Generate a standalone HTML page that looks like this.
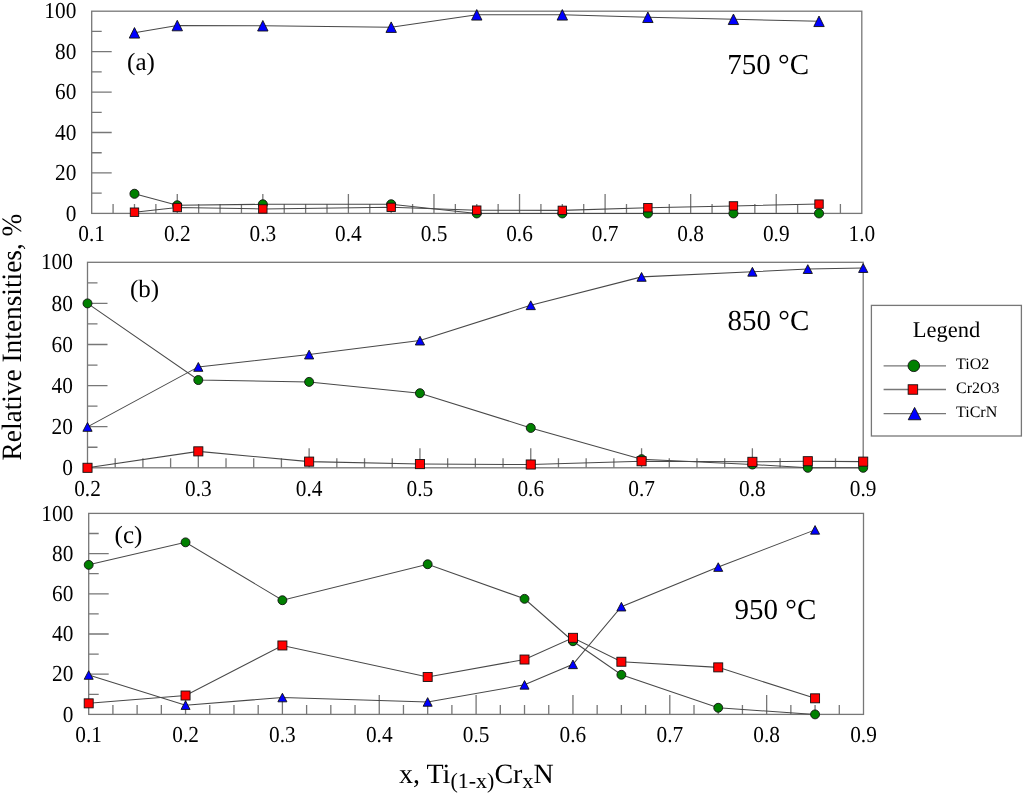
<!DOCTYPE html>
<html><head><meta charset="utf-8"><title>Relative intensities</title>
<style>
html,body{margin:0;padding:0;background:#fff;}
body{width:1024px;height:794px;overflow:hidden;}
svg{display:block;font-family:"Liberation Serif", serif;will-change:transform;}
text{fill:#000;text-rendering:geometricPrecision;}
</style></head>
<body>
<svg width="1024" height="794" viewBox="0 0 1024 794">
<rect width="1024" height="794" fill="#fff"/>
<path d="M91.70 193.18h10 M91.70 172.96h20 M91.70 152.74h10 M91.70 132.52h20 M91.70 112.30h10 M91.70 92.08h20 M91.70 71.86h10 M91.70 51.64h20 M91.70 31.42h10 M113.09 213.40v-9.5 M134.48 213.40v-9.5 M155.88 213.40v-9.5 M177.27 213.40v-19.5 M198.66 213.40v-9.5 M220.05 213.40v-9.5 M241.44 213.40v-9.5 M262.83 213.40v-19.5 M284.22 213.40v-9.5 M305.62 213.40v-9.5 M327.01 213.40v-9.5 M348.40 213.40v-19.5 M369.79 213.40v-9.5 M391.18 213.40v-9.5 M412.57 213.40v-9.5 M433.97 213.40v-19.5 M455.36 213.40v-9.5 M476.75 213.40v-9.5 M498.14 213.40v-9.5 M519.53 213.40v-19.5 M540.92 213.40v-9.5 M562.32 213.40v-9.5 M583.71 213.40v-9.5 M605.10 213.40v-19.5 M626.49 213.40v-9.5 M647.88 213.40v-9.5 M669.27 213.40v-9.5 M690.67 213.40v-19.5 M712.06 213.40v-9.5 M733.45 213.40v-9.5 M754.84 213.40v-9.5 M776.23 213.40v-19.5 M797.62 213.40v-9.5 M819.02 213.40v-9.5 M840.41 213.40v-9.5" stroke="#777" stroke-width="1.3" fill="none"/>
<rect x="91.70" y="11.20" width="770.10" height="202.20" fill="none" stroke="#777" stroke-width="1.3"/>
<text transform="translate(76.30 220.50) scale(0.97 1.04)" text-anchor="end" font-size="22">0</text>
<text transform="translate(76.30 180.06) scale(0.97 1.04)" text-anchor="end" font-size="22">20</text>
<text transform="translate(76.30 139.62) scale(0.97 1.04)" text-anchor="end" font-size="22">40</text>
<text transform="translate(76.30 99.18) scale(0.97 1.04)" text-anchor="end" font-size="22">60</text>
<text transform="translate(76.30 58.74) scale(0.97 1.04)" text-anchor="end" font-size="22">80</text>
<text transform="translate(76.30 18.30) scale(0.97 1.04)" text-anchor="end" font-size="22">100</text>
<text transform="translate(91.70 241.40) scale(0.97 1.04)" text-anchor="middle" font-size="22">0.1</text>
<text transform="translate(177.27 241.40) scale(0.97 1.04)" text-anchor="middle" font-size="22">0.2</text>
<text transform="translate(262.83 241.40) scale(0.97 1.04)" text-anchor="middle" font-size="22">0.3</text>
<text transform="translate(348.40 241.40) scale(0.97 1.04)" text-anchor="middle" font-size="22">0.4</text>
<text transform="translate(433.97 241.40) scale(0.97 1.04)" text-anchor="middle" font-size="22">0.5</text>
<text transform="translate(519.53 241.40) scale(0.97 1.04)" text-anchor="middle" font-size="22">0.6</text>
<text transform="translate(605.10 241.40) scale(0.97 1.04)" text-anchor="middle" font-size="22">0.7</text>
<text transform="translate(690.67 241.40) scale(0.97 1.04)" text-anchor="middle" font-size="22">0.8</text>
<text transform="translate(776.23 241.40) scale(0.97 1.04)" text-anchor="middle" font-size="22">0.9</text>
<text transform="translate(861.80 241.40) scale(0.97 1.04)" text-anchor="middle" font-size="22">1.0</text>
<path d="M134.48 193.79 L177.27 205.31 L262.83 204.30 L391.18 204.30 L476.75 213.40 L562.32 213.40 L647.88 213.40 L733.45 213.40 L819.02 213.40" stroke="#484848" stroke-width="1.05" fill="none"/>
<circle cx="134.48" cy="193.79" r="4.55" fill="#008000" stroke="#111" stroke-width="0.9"/>
<circle cx="177.27" cy="205.31" r="4.55" fill="#008000" stroke="#111" stroke-width="0.9"/>
<circle cx="262.83" cy="204.30" r="4.55" fill="#008000" stroke="#111" stroke-width="0.9"/>
<circle cx="391.18" cy="204.30" r="4.55" fill="#008000" stroke="#111" stroke-width="0.9"/>
<circle cx="476.75" cy="213.40" r="4.55" fill="#008000" stroke="#111" stroke-width="0.9"/>
<circle cx="562.32" cy="213.40" r="4.55" fill="#008000" stroke="#111" stroke-width="0.9"/>
<circle cx="647.88" cy="213.40" r="4.55" fill="#008000" stroke="#111" stroke-width="0.9"/>
<circle cx="733.45" cy="213.40" r="4.55" fill="#008000" stroke="#111" stroke-width="0.9"/>
<circle cx="819.02" cy="213.40" r="4.55" fill="#008000" stroke="#111" stroke-width="0.9"/>
<path d="M134.48 212.19 L177.27 207.54 L262.83 208.95 L391.18 207.33 L476.75 210.16 L562.32 210.37 L647.88 207.74 L733.45 205.92 L819.02 204.10" stroke="#484848" stroke-width="1.05" fill="none"/>
<rect x="130.28" y="207.99" width="8.4" height="8.4" fill="#ff0000" stroke="#111" stroke-width="0.9"/>
<rect x="173.07" y="203.34" width="8.4" height="8.4" fill="#ff0000" stroke="#111" stroke-width="0.9"/>
<rect x="258.63" y="204.75" width="8.4" height="8.4" fill="#ff0000" stroke="#111" stroke-width="0.9"/>
<rect x="386.98" y="203.13" width="8.4" height="8.4" fill="#ff0000" stroke="#111" stroke-width="0.9"/>
<rect x="472.55" y="205.96" width="8.4" height="8.4" fill="#ff0000" stroke="#111" stroke-width="0.9"/>
<rect x="558.12" y="206.17" width="8.4" height="8.4" fill="#ff0000" stroke="#111" stroke-width="0.9"/>
<rect x="643.68" y="203.54" width="8.4" height="8.4" fill="#ff0000" stroke="#111" stroke-width="0.9"/>
<rect x="729.25" y="201.72" width="8.4" height="8.4" fill="#ff0000" stroke="#111" stroke-width="0.9"/>
<rect x="814.82" y="199.90" width="8.4" height="8.4" fill="#ff0000" stroke="#111" stroke-width="0.9"/>
<path d="M134.48 32.84 L177.27 25.56 L262.83 25.76 L391.18 27.17 L476.75 14.84 L562.32 14.84 L647.88 17.27 L733.45 19.29 L819.02 21.31" stroke="#484848" stroke-width="1.05" fill="none"/>
<polygon points="134.48,27.59 129.28,38.09 139.68,38.09" fill="#0000ff" stroke="#111" stroke-width="0.9" stroke-linejoin="round"/>
<polygon points="177.27,20.31 172.07,30.81 182.47,30.81" fill="#0000ff" stroke="#111" stroke-width="0.9" stroke-linejoin="round"/>
<polygon points="262.83,20.51 257.63,31.01 268.03,31.01" fill="#0000ff" stroke="#111" stroke-width="0.9" stroke-linejoin="round"/>
<polygon points="391.18,21.92 385.98,32.42 396.38,32.42" fill="#0000ff" stroke="#111" stroke-width="0.9" stroke-linejoin="round"/>
<polygon points="476.75,9.59 471.55,20.09 481.95,20.09" fill="#0000ff" stroke="#111" stroke-width="0.9" stroke-linejoin="round"/>
<polygon points="562.32,9.59 557.12,20.09 567.52,20.09" fill="#0000ff" stroke="#111" stroke-width="0.9" stroke-linejoin="round"/>
<polygon points="647.88,12.02 642.68,22.52 653.08,22.52" fill="#0000ff" stroke="#111" stroke-width="0.9" stroke-linejoin="round"/>
<polygon points="733.45,14.04 728.25,24.54 738.65,24.54" fill="#0000ff" stroke="#111" stroke-width="0.9" stroke-linejoin="round"/>
<polygon points="819.02,16.06 813.82,26.56 824.22,26.56" fill="#0000ff" stroke="#111" stroke-width="0.9" stroke-linejoin="round"/>
<text x="127.1" y="70.2" font-size="25">(a)</text>
<text x="727.3" y="74.1" font-size="29">750 °C</text>
<path d="M87.50 447.25h10 M87.50 426.70h20 M87.50 406.15h10 M87.50 385.60h20 M87.50 365.05h10 M87.50 344.50h20 M87.50 323.95h10 M87.50 303.40h20 M87.50 282.85h10 M115.20 467.80v-9.5 M142.91 467.80v-9.5 M170.61 467.80v-9.5 M198.31 467.80v-19.5 M226.02 467.80v-9.5 M253.72 467.80v-9.5 M281.43 467.80v-9.5 M309.13 467.80v-19.5 M336.83 467.80v-9.5 M364.54 467.80v-9.5 M392.24 467.80v-9.5 M419.94 467.80v-19.5 M447.65 467.80v-9.5 M475.35 467.80v-9.5 M503.05 467.80v-9.5 M530.76 467.80v-19.5 M558.46 467.80v-9.5 M586.16 467.80v-9.5 M613.87 467.80v-9.5 M641.57 467.80v-19.5 M669.28 467.80v-9.5 M696.98 467.80v-9.5 M724.68 467.80v-9.5 M752.39 467.80v-19.5 M780.09 467.80v-9.5 M807.79 467.80v-9.5 M835.50 467.80v-9.5" stroke="#777" stroke-width="1.3" fill="none"/>
<rect x="87.50" y="262.30" width="775.70" height="205.50" fill="none" stroke="#777" stroke-width="1.3"/>
<text transform="translate(72.90 474.90) scale(0.97 1.04)" text-anchor="end" font-size="22">0</text>
<text transform="translate(72.90 433.80) scale(0.97 1.04)" text-anchor="end" font-size="22">20</text>
<text transform="translate(72.90 392.70) scale(0.97 1.04)" text-anchor="end" font-size="22">40</text>
<text transform="translate(72.90 351.60) scale(0.97 1.04)" text-anchor="end" font-size="22">60</text>
<text transform="translate(72.90 310.50) scale(0.97 1.04)" text-anchor="end" font-size="22">80</text>
<text transform="translate(72.90 269.40) scale(0.97 1.04)" text-anchor="end" font-size="22">100</text>
<text transform="translate(87.50 495.80) scale(0.97 1.04)" text-anchor="middle" font-size="22">0.2</text>
<text transform="translate(198.31 495.80) scale(0.97 1.04)" text-anchor="middle" font-size="22">0.3</text>
<text transform="translate(309.13 495.80) scale(0.97 1.04)" text-anchor="middle" font-size="22">0.4</text>
<text transform="translate(419.94 495.80) scale(0.97 1.04)" text-anchor="middle" font-size="22">0.5</text>
<text transform="translate(530.76 495.80) scale(0.97 1.04)" text-anchor="middle" font-size="22">0.6</text>
<text transform="translate(641.57 495.80) scale(0.97 1.04)" text-anchor="middle" font-size="22">0.7</text>
<text transform="translate(752.39 495.80) scale(0.97 1.04)" text-anchor="middle" font-size="22">0.8</text>
<text transform="translate(863.20 495.80) scale(0.97 1.04)" text-anchor="middle" font-size="22">0.9</text>
<path d="M87.50 303.40 L198.31 380.05 L309.13 381.90 L419.94 393.20 L530.76 427.93 L641.57 459.17 L752.39 464.51 L807.79 467.80 L863.20 467.80" stroke="#484848" stroke-width="1.05" fill="none"/>
<circle cx="87.50" cy="303.40" r="4.5" fill="#008000" stroke="#111" stroke-width="0.9"/>
<circle cx="198.31" cy="380.05" r="4.5" fill="#008000" stroke="#111" stroke-width="0.9"/>
<circle cx="309.13" cy="381.90" r="4.5" fill="#008000" stroke="#111" stroke-width="0.9"/>
<circle cx="419.94" cy="393.20" r="4.5" fill="#008000" stroke="#111" stroke-width="0.9"/>
<circle cx="530.76" cy="427.93" r="4.5" fill="#008000" stroke="#111" stroke-width="0.9"/>
<circle cx="641.57" cy="459.17" r="4.5" fill="#008000" stroke="#111" stroke-width="0.9"/>
<circle cx="752.39" cy="464.51" r="4.5" fill="#008000" stroke="#111" stroke-width="0.9"/>
<circle cx="807.79" cy="467.80" r="4.5" fill="#008000" stroke="#111" stroke-width="0.9"/>
<circle cx="863.20" cy="467.80" r="4.5" fill="#008000" stroke="#111" stroke-width="0.9"/>
<path d="M87.50 467.80 L198.31 451.36 L309.13 461.63 L419.94 464.10 L530.76 464.51 L641.57 461.22 L752.39 461.84 L807.79 461.22 L863.20 461.63" stroke="#484848" stroke-width="1.05" fill="none"/>
<rect x="82.95" y="463.25" width="9.1" height="9.1" fill="#ff0000" stroke="#111" stroke-width="0.9"/>
<rect x="193.76" y="446.81" width="9.1" height="9.1" fill="#ff0000" stroke="#111" stroke-width="0.9"/>
<rect x="304.58" y="457.08" width="9.1" height="9.1" fill="#ff0000" stroke="#111" stroke-width="0.9"/>
<rect x="415.39" y="459.55" width="9.1" height="9.1" fill="#ff0000" stroke="#111" stroke-width="0.9"/>
<rect x="526.21" y="459.96" width="9.1" height="9.1" fill="#ff0000" stroke="#111" stroke-width="0.9"/>
<rect x="637.02" y="456.67" width="9.1" height="9.1" fill="#ff0000" stroke="#111" stroke-width="0.9"/>
<rect x="747.84" y="457.29" width="9.1" height="9.1" fill="#ff0000" stroke="#111" stroke-width="0.9"/>
<rect x="803.24" y="456.67" width="9.1" height="9.1" fill="#ff0000" stroke="#111" stroke-width="0.9"/>
<rect x="858.65" y="457.08" width="9.1" height="9.1" fill="#ff0000" stroke="#111" stroke-width="0.9"/>
<path d="M87.50 426.91 L198.31 366.90 L309.13 354.57 L419.94 340.60 L530.76 305.25 L641.57 276.89 L752.39 271.75 L807.79 269.08 L863.20 268.05" stroke="#484848" stroke-width="1.05" fill="none"/>
<polygon points="87.50,422.51 82.90,431.31 92.10,431.31" fill="#0000ff" stroke="#111" stroke-width="0.9" stroke-linejoin="round"/>
<polygon points="198.31,362.50 193.71,371.30 202.91,371.30" fill="#0000ff" stroke="#111" stroke-width="0.9" stroke-linejoin="round"/>
<polygon points="309.13,350.17 304.53,358.97 313.73,358.97" fill="#0000ff" stroke="#111" stroke-width="0.9" stroke-linejoin="round"/>
<polygon points="419.94,336.20 415.34,345.00 424.54,345.00" fill="#0000ff" stroke="#111" stroke-width="0.9" stroke-linejoin="round"/>
<polygon points="530.76,300.85 526.16,309.65 535.36,309.65" fill="#0000ff" stroke="#111" stroke-width="0.9" stroke-linejoin="round"/>
<polygon points="641.57,272.49 636.97,281.29 646.17,281.29" fill="#0000ff" stroke="#111" stroke-width="0.9" stroke-linejoin="round"/>
<polygon points="752.39,267.35 747.79,276.15 756.99,276.15" fill="#0000ff" stroke="#111" stroke-width="0.9" stroke-linejoin="round"/>
<polygon points="807.79,264.68 803.19,273.48 812.39,273.48" fill="#0000ff" stroke="#111" stroke-width="0.9" stroke-linejoin="round"/>
<polygon points="863.20,263.65 858.60,272.45 867.80,272.45" fill="#0000ff" stroke="#111" stroke-width="0.9" stroke-linejoin="round"/>
<text x="130.0" y="297.4" font-size="25">(b)</text>
<text x="727.6" y="329.9" font-size="29">850 °C</text>
<path d="M88.70 694.30h10 M88.70 674.20h20 M88.70 654.10h10 M88.70 634.00h20 M88.70 613.90h10 M88.70 593.80h20 M88.70 573.70h10 M88.70 553.60h20 M88.70 533.50h10 M112.91 714.40v-9.5 M137.12 714.40v-9.5 M161.34 714.40v-9.5 M185.55 714.40v-19.5 M209.76 714.40v-9.5 M233.97 714.40v-9.5 M258.19 714.40v-9.5 M282.40 714.40v-19.5 M306.61 714.40v-9.5 M330.82 714.40v-9.5 M355.04 714.40v-9.5 M379.25 714.40v-19.5 M403.46 714.40v-9.5 M427.68 714.40v-9.5 M451.89 714.40v-9.5 M476.10 714.40v-19.5 M500.31 714.40v-9.5 M524.52 714.40v-9.5 M548.74 714.40v-9.5 M572.95 714.40v-19.5 M597.16 714.40v-9.5 M621.38 714.40v-9.5 M645.59 714.40v-9.5 M669.80 714.40v-19.5 M694.01 714.40v-9.5 M718.23 714.40v-9.5 M742.44 714.40v-9.5 M766.65 714.40v-19.5 M790.86 714.40v-9.5 M815.07 714.40v-9.5 M839.29 714.40v-9.5" stroke="#777" stroke-width="1.3" fill="none"/>
<rect x="88.70" y="513.40" width="774.80" height="201.00" fill="none" stroke="#777" stroke-width="1.3"/>
<text transform="translate(73.30 721.50) scale(0.97 1.04)" text-anchor="end" font-size="22">0</text>
<text transform="translate(73.30 681.30) scale(0.97 1.04)" text-anchor="end" font-size="22">20</text>
<text transform="translate(73.30 641.10) scale(0.97 1.04)" text-anchor="end" font-size="22">40</text>
<text transform="translate(73.30 600.90) scale(0.97 1.04)" text-anchor="end" font-size="22">60</text>
<text transform="translate(73.30 560.70) scale(0.97 1.04)" text-anchor="end" font-size="22">80</text>
<text transform="translate(73.30 520.50) scale(0.97 1.04)" text-anchor="end" font-size="22">100</text>
<text transform="translate(88.70 742.40) scale(0.97 1.04)" text-anchor="middle" font-size="22">0.1</text>
<text transform="translate(185.55 742.40) scale(0.97 1.04)" text-anchor="middle" font-size="22">0.2</text>
<text transform="translate(282.40 742.40) scale(0.97 1.04)" text-anchor="middle" font-size="22">0.3</text>
<text transform="translate(379.25 742.40) scale(0.97 1.04)" text-anchor="middle" font-size="22">0.4</text>
<text transform="translate(476.10 742.40) scale(0.97 1.04)" text-anchor="middle" font-size="22">0.5</text>
<text transform="translate(572.95 742.40) scale(0.97 1.04)" text-anchor="middle" font-size="22">0.6</text>
<text transform="translate(669.80 742.40) scale(0.97 1.04)" text-anchor="middle" font-size="22">0.7</text>
<text transform="translate(766.65 742.40) scale(0.97 1.04)" text-anchor="middle" font-size="22">0.8</text>
<text transform="translate(863.50 742.40) scale(0.97 1.04)" text-anchor="middle" font-size="22">0.9</text>
<path d="M88.70 564.86 L185.55 542.34 L282.40 600.23 L427.67 564.25 L524.52 598.83 L572.95 641.24 L621.38 674.80 L718.23 707.77 L815.07 714.40" stroke="#484848" stroke-width="1.05" fill="none"/>
<circle cx="88.70" cy="564.86" r="4.45" fill="#008000" stroke="#111" stroke-width="0.9"/>
<circle cx="185.55" cy="542.34" r="4.45" fill="#008000" stroke="#111" stroke-width="0.9"/>
<circle cx="282.40" cy="600.23" r="4.45" fill="#008000" stroke="#111" stroke-width="0.9"/>
<circle cx="427.67" cy="564.25" r="4.45" fill="#008000" stroke="#111" stroke-width="0.9"/>
<circle cx="524.52" cy="598.83" r="4.45" fill="#008000" stroke="#111" stroke-width="0.9"/>
<circle cx="572.95" cy="641.24" r="4.45" fill="#008000" stroke="#111" stroke-width="0.9"/>
<circle cx="621.38" cy="674.80" r="4.45" fill="#008000" stroke="#111" stroke-width="0.9"/>
<circle cx="718.23" cy="707.77" r="4.45" fill="#008000" stroke="#111" stroke-width="0.9"/>
<circle cx="815.07" cy="714.40" r="4.45" fill="#008000" stroke="#111" stroke-width="0.9"/>
<path d="M88.70 703.35 L185.55 695.51 L282.40 645.46 L427.67 677.01 L524.52 659.53 L572.95 637.82 L621.38 661.74 L718.23 667.37 L815.07 698.32" stroke="#484848" stroke-width="1.05" fill="none"/>
<rect x="84.20" y="698.85" width="9.0" height="9.0" fill="#ff0000" stroke="#111" stroke-width="0.9"/>
<rect x="181.05" y="691.01" width="9.0" height="9.0" fill="#ff0000" stroke="#111" stroke-width="0.9"/>
<rect x="277.90" y="640.96" width="9.0" height="9.0" fill="#ff0000" stroke="#111" stroke-width="0.9"/>
<rect x="423.17" y="672.51" width="9.0" height="9.0" fill="#ff0000" stroke="#111" stroke-width="0.9"/>
<rect x="520.02" y="655.03" width="9.0" height="9.0" fill="#ff0000" stroke="#111" stroke-width="0.9"/>
<rect x="568.45" y="633.32" width="9.0" height="9.0" fill="#ff0000" stroke="#111" stroke-width="0.9"/>
<rect x="616.88" y="657.24" width="9.0" height="9.0" fill="#ff0000" stroke="#111" stroke-width="0.9"/>
<rect x="713.73" y="662.87" width="9.0" height="9.0" fill="#ff0000" stroke="#111" stroke-width="0.9"/>
<rect x="810.57" y="693.82" width="9.0" height="9.0" fill="#ff0000" stroke="#111" stroke-width="0.9"/>
<path d="M88.70 675.00 L185.55 705.15 L282.40 697.52 L427.67 701.94 L524.52 684.85 L572.95 664.35 L621.38 606.66 L718.23 567.07 L815.07 529.88" stroke="#484848" stroke-width="1.05" fill="none"/>
<polygon points="88.70,670.70 84.20,679.30 93.20,679.30" fill="#0000ff" stroke="#111" stroke-width="0.9" stroke-linejoin="round"/>
<polygon points="185.55,700.85 181.05,709.45 190.05,709.45" fill="#0000ff" stroke="#111" stroke-width="0.9" stroke-linejoin="round"/>
<polygon points="282.40,693.22 277.90,701.82 286.90,701.82" fill="#0000ff" stroke="#111" stroke-width="0.9" stroke-linejoin="round"/>
<polygon points="427.67,697.64 423.17,706.24 432.17,706.24" fill="#0000ff" stroke="#111" stroke-width="0.9" stroke-linejoin="round"/>
<polygon points="524.52,680.55 520.02,689.15 529.02,689.15" fill="#0000ff" stroke="#111" stroke-width="0.9" stroke-linejoin="round"/>
<polygon points="572.95,660.05 568.45,668.65 577.45,668.65" fill="#0000ff" stroke="#111" stroke-width="0.9" stroke-linejoin="round"/>
<polygon points="621.38,602.36 616.88,610.96 625.88,610.96" fill="#0000ff" stroke="#111" stroke-width="0.9" stroke-linejoin="round"/>
<polygon points="718.23,562.77 713.73,571.37 722.73,571.37" fill="#0000ff" stroke="#111" stroke-width="0.9" stroke-linejoin="round"/>
<polygon points="815.07,525.58 810.57,534.18 819.57,534.18" fill="#0000ff" stroke="#111" stroke-width="0.9" stroke-linejoin="round"/>
<text x="114.6" y="542.8" font-size="25">(c)</text>
<text x="734.6" y="618.5" font-size="29">950 °C</text>
<rect x="871.4" y="305.4" width="150" height="130.6" fill="#fff" stroke="#777" stroke-width="1.3"/>
<text x="946.5" y="337" text-anchor="middle" font-size="22.5">Legend</text>
<path d="M883.6 365.8H946" stroke="#777" stroke-width="1.3"/>
<circle cx="913.80" cy="365.80" r="5.8" fill="#008000" stroke="#111" stroke-width="0.9"/>
<text x="956" y="369.0" font-size="16">TiO2</text>
<path d="M883.6 389.5H946" stroke="#777" stroke-width="1.3"/>
<rect x="908.15" y="384.75" width="9.5" height="9.5" fill="#ff0000" stroke="#111" stroke-width="0.9"/>
<text x="956" y="392.7" font-size="16">Cr2O3</text>
<path d="M883.6 413.6H946" stroke="#777" stroke-width="1.3"/>
<polygon points="914.60,407.45 908.25,419.75 920.95,419.75" fill="#0000ff" stroke="#111" stroke-width="0.9" stroke-linejoin="round"/>
<text x="956" y="416.8" font-size="16">TiCrN</text>
<text transform="translate(21.0 460.5) rotate(-90) scale(0.977 1)" font-size="28">Relative Intensities, %</text>
<text x="399" y="783.1" font-size="28">x, Ti<tspan font-size="22" dy="5.0">(1-x)</tspan><tspan dy="-5.0">Cr</tspan><tspan font-size="22" dy="5.0">x</tspan><tspan dy="-5.0">N</tspan></text>
</svg>
</body></html>
